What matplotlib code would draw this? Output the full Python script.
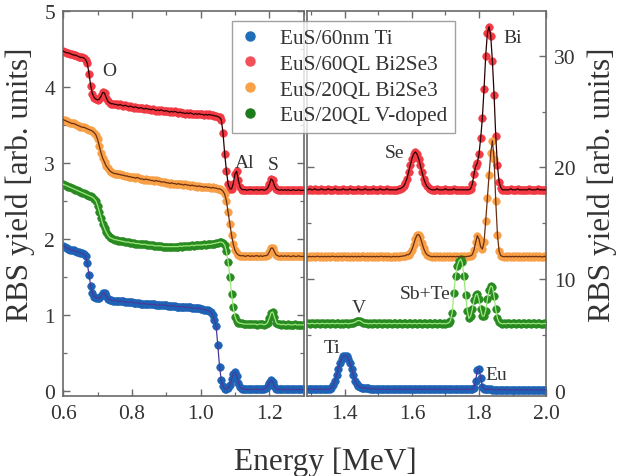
import numpy as np
import matplotlib
matplotlib.use('Agg')
import matplotlib.pyplot as plt
from matplotlib.lines import Line2D
from matplotlib.ticker import MultipleLocator, FormatStrFormatter

plt.rcParams['font.family'] = ['Liberation Serif', 'DejaVu Serif']

# ---------------- data ----------------
series_names = ["EuS/60nm Ti", "EuS/60QL Bi2Se3", "EuS/20QL Bi2Se3", "EuS/20QL V-doped"]

# energy grids (MeV)
energy_low = np.round(np.arange(0.600, 1.3001, 0.005), 3)   # 0.600 ... 1.300
energy_high = np.round(np.arange(1.290, 2.0001, 0.005), 3)  # 1.290 ... 2.000

# left panel yields [arb. units]
red_low = [
    4.47, 4.46, 4.45, 4.45, 4.44, 4.43, 4.42, 4.42, 4.41, 4.40,
    4.39, 4.39, 4.38, 4.36, 4.31, 4.17, 4.01, 3.91, 3.86, 3.84,
    3.83, 3.84, 3.88, 3.93, 3.92, 3.86, 3.81, 3.79, 3.78, 3.78,
    3.77, 3.77, 3.76, 3.77, 3.76, 3.75, 3.76, 3.75, 3.74, 3.75,
    3.74, 3.73, 3.74, 3.73, 3.72, 3.73, 3.72, 3.71, 3.72, 3.71,
    3.71, 3.70, 3.71, 3.70, 3.69, 3.70, 3.69, 3.70, 3.69, 3.68,
    3.69, 3.68, 3.67, 3.68, 3.67, 3.68, 3.67, 3.66, 3.67, 3.66,
    3.66, 3.65, 3.66, 3.65, 3.66, 3.65, 3.64, 3.65, 3.64, 3.65,
    3.64, 3.64, 3.63, 3.64, 3.63, 3.64, 3.63, 3.63, 3.62, 3.62,
    3.61, 3.60, 3.57, 3.40, 3.12, 2.90, 2.72, 2.66, 2.66, 2.73,
    2.86, 2.89, 2.77, 2.68, 2.65, 2.65, 2.65, 2.64, 2.65, 2.65,
    2.65, 2.64, 2.65, 2.65, 2.64, 2.65, 2.65, 2.64, 2.65, 2.67,
    2.72, 2.79, 2.77, 2.70, 2.66, 2.65, 2.64, 2.65, 2.64, 2.65,
    2.64, 2.65, 2.64, 2.64, 2.65, 2.64, 2.64, 2.65, 2.64, 2.64,
    2.64]
orange_low = [
    3.57, 3.56, 3.55, 3.54, 3.53, 3.52, 3.52, 3.51, 3.50, 3.49,
    3.48, 3.47, 3.47, 3.46, 3.45, 3.44, 3.43, 3.42, 3.40, 3.37,
    3.31, 3.22, 3.13, 3.06, 3.01, 2.96, 2.93, 2.90, 2.88, 2.87,
    2.86, 2.86, 2.85, 2.85, 2.84, 2.84, 2.83, 2.83, 2.82, 2.82,
    2.81, 2.81, 2.80, 2.81, 2.80, 2.79, 2.79, 2.78, 2.79, 2.78,
    2.78, 2.77, 2.77, 2.76, 2.77, 2.76, 2.76, 2.75, 2.75, 2.75,
    2.74, 2.74, 2.73, 2.74, 2.73, 2.73, 2.72, 2.73, 2.72, 2.72,
    2.71, 2.72, 2.71, 2.71, 2.70, 2.71, 2.70, 2.70, 2.69, 2.70,
    2.69, 2.69, 2.68, 2.69, 2.68, 2.68, 2.67, 2.68, 2.67, 2.67,
    2.66, 2.66, 2.65, 2.63, 2.59, 2.50, 2.35, 2.20, 2.05, 1.93,
    1.85, 1.81, 1.79, 1.78, 1.78, 1.78, 1.77, 1.78, 1.78, 1.77,
    1.78, 1.77, 1.78, 1.78, 1.77, 1.78, 1.77, 1.78, 1.78, 1.79,
    1.83, 1.88, 1.88, 1.83, 1.79, 1.78, 1.77, 1.78, 1.77, 1.78,
    1.77, 1.78, 1.77, 1.77, 1.78, 1.77, 1.77, 1.78, 1.77, 1.77,
    1.77]
green_low = [
    2.72, 2.71, 2.70, 2.69, 2.68, 2.67, 2.66, 2.65, 2.64, 2.63,
    2.62, 2.61, 2.60, 2.59, 2.58, 2.57, 2.56, 2.55, 2.53, 2.50,
    2.44, 2.36, 2.28, 2.20, 2.14, 2.09, 2.05, 2.02, 2.01, 2.00,
    1.99, 1.99, 1.98, 1.98, 1.97, 1.97, 1.96, 1.96, 1.96, 1.95,
    1.95, 1.95, 1.94, 1.94, 1.94, 1.93, 1.93, 1.93, 1.93, 1.92,
    1.92, 1.92, 1.92, 1.91, 1.91, 1.91, 1.91, 1.91, 1.90, 1.90,
    1.90, 1.90, 1.90, 1.90, 1.90, 1.90, 1.90, 1.90, 1.91, 1.90,
    1.91, 1.91, 1.91, 1.91, 1.91, 1.92, 1.91, 1.92, 1.92, 1.92,
    1.92, 1.92, 1.93, 1.92, 1.93, 1.93, 1.93, 1.94, 1.94, 1.95,
    1.95, 1.96, 1.96, 1.95, 1.92, 1.84, 1.70, 1.50, 1.28, 1.10,
    0.98, 0.92, 0.90, 0.89, 0.89, 0.88, 0.88, 0.88, 0.88, 0.88,
    0.88, 0.88, 0.88, 0.87, 0.88, 0.88, 0.88, 0.87, 0.88, 0.90,
    0.96, 1.03, 1.04, 0.97, 0.90, 0.88, 0.88, 0.87, 0.88, 0.87,
    0.87, 0.88, 0.87, 0.87, 0.87, 0.88, 0.87, 0.87, 0.87, 0.87,
    0.87]
blue_low = [
    1.91, 1.90, 1.88, 1.87, 1.86, 1.85, 1.85, 1.84, 1.83, 1.83,
    1.82, 1.81, 1.80, 1.77, 1.68, 1.52, 1.38, 1.29, 1.24, 1.23,
    1.22, 1.22, 1.25, 1.29, 1.29, 1.25, 1.21, 1.20, 1.20, 1.19,
    1.19, 1.19, 1.18, 1.18, 1.18, 1.18, 1.17, 1.17, 1.17, 1.17,
    1.17, 1.16, 1.16, 1.16, 1.16, 1.15, 1.15, 1.15, 1.15, 1.14,
    1.14, 1.14, 1.14, 1.14, 1.13, 1.13, 1.13, 1.13, 1.13, 1.13,
    1.13, 1.12, 1.12, 1.12, 1.12, 1.12, 1.11, 1.11, 1.11, 1.11,
    1.11, 1.10, 1.10, 1.10, 1.10, 1.09, 1.09, 1.09, 1.09, 1.09,
    1.08, 1.08, 1.07, 1.07, 1.06, 1.05, 1.04, 1.00, 0.94, 0.85,
    0.60, 0.32, 0.14, 0.06, 0.03, 0.03, 0.04, 0.08, 0.16, 0.23,
    0.25, 0.20, 0.11, 0.05, 0.03, 0.03, 0.02, 0.02, 0.02, 0.02,
    0.02, 0.02, 0.02, 0.02, 0.02, 0.02, 0.02, 0.03, 0.04, 0.06,
    0.11, 0.14, 0.12, 0.06, 0.03, 0.02, 0.02, 0.02, 0.02, 0.02,
    0.02, 0.02, 0.02, 0.02, 0.02, 0.02, 0.02, 0.02, 0.02, 0.02,
    0.02]

# right panel yields [arb. units]
red_high = [
    18.0, 18.1, 18.0, 18.0, 18.1, 18.0, 18.0, 18.0, 18.1, 18.0,
    18.0, 18.0, 18.1, 18.0, 18.0, 18.0, 18.1, 18.0, 18.0, 18.0,
    18.0, 18.1, 18.0, 18.0, 18.0, 18.1, 18.0, 18.0, 18.0, 18.0,
    18.1, 18.0, 18.0, 18.0, 18.1, 18.0, 18.0, 18.0, 18.0, 18.1,
    18.0, 18.0, 18.0, 18.1, 18.0, 18.0, 18.0, 18.1, 18.0, 18.0,
    18.0, 18.0, 18.0, 18.0, 18.1, 18.1, 18.2, 18.3, 18.6, 19.0,
    19.6, 20.2, 20.8, 21.2, 21.4, 21.2, 20.8, 20.2, 19.6, 19.0,
    18.6, 18.3, 18.15, 18.05, 18.0, 18.0, 18.0, 18.1, 18.0, 18.0,
    18.0, 18.0, 18.1, 18.0, 18.0, 18.0, 18.0, 18.1, 18.0, 18.0,
    18.0, 18.0, 18.0, 18.0, 18.0, 18.0, 18.0, 18.1, 18.5, 19.4,
    20.1, 20.4, 21.2, 22.6, 24.4, 27.0, 30.0, 32.0, 32.6, 31.8,
    29.5, 26.5, 22.8, 20.2, 18.7, 18.2, 18.0, 18.0, 18.0, 18.0,
    18.0, 18.1, 18.0, 18.0, 18.0, 18.1, 18.0, 18.0, 18.0, 18.0,
    18.0, 18.0, 18.1, 18.0, 18.0, 18.0, 18.0, 18.1, 18.0, 18.0,
    18.0, 18.0, 18.0]
orange_high = [
    12.0, 12.05, 12.0, 12.05, 12.0, 12.05, 12.05, 12.0, 12.05, 12.0,
    12.05, 12.0, 12.05, 12.0, 12.05, 12.05, 12.0, 12.05, 12.0, 12.05,
    12.0, 12.05, 12.05, 12.0, 12.05, 12.0, 12.05, 12.0, 12.05, 12.0,
    12.05, 12.0, 12.05, 12.05, 12.0, 12.05, 12.0, 12.05, 12.0, 12.05,
    12.0, 12.05, 12.0, 12.05, 12.05, 12.0, 12.05, 12.0, 12.05, 12.0,
    12.0, 12.05, 12.0, 12.05, 12.0, 12.05, 12.05, 12.1, 12.1, 12.2,
    12.2, 12.35, 12.65, 13.1, 13.6, 13.95, 14.0, 13.75, 13.25, 12.75,
    12.4, 12.2, 12.1, 12.05, 12.0, 12.05, 12.0, 12.05, 12.0, 12.05,
    12.0, 12.05, 12.0, 12.05, 12.0, 12.05, 12.0, 12.05, 12.0, 12.05,
    12.0, 12.05, 12.0, 12.05, 12.0, 12.05, 12.05, 12.1, 12.2, 12.6,
    13.3, 13.9, 13.6, 12.9, 12.7, 13.3, 15.2, 17.3, 19.3, 21.3,
    22.4, 20.8, 17.0, 14.0, 12.5, 12.1, 12.05, 12.0, 12.05, 12.0,
    12.05, 12.0, 12.05, 12.0, 12.05, 12.0, 12.05, 12.0, 12.05, 12.0,
    12.05, 12.0, 12.05, 12.0, 12.05, 12.0, 12.05, 12.0, 12.05, 12.0,
    12.0, 12.05, 12.0]
green_high = [
    6.05, 6.0, 6.05, 6.05, 6.0, 6.05, 6.05, 6.0, 6.05, 6.05,
    6.0, 6.05, 6.05, 6.0, 6.05, 6.05, 6.0, 6.05, 6.05, 6.0,
    6.05, 6.0, 6.05, 6.05, 6.0, 6.05, 6.05, 6.1, 6.15, 6.25,
    6.3, 6.3, 6.2, 6.1, 6.05, 6.05, 6.0, 6.05, 6.0, 6.05,
    6.05, 6.0, 6.05, 6.05, 6.0, 6.05, 6.05, 6.0, 6.05, 6.05,
    6.0, 6.05, 6.05, 6.0, 6.05, 6.05, 6.0, 6.05, 6.05, 6.0,
    6.05, 6.05, 6.0, 6.05, 6.05, 6.0, 6.05, 6.05, 6.0, 6.05,
    6.05, 6.0, 6.05, 6.05, 6.0, 6.05, 6.05, 6.0, 6.05, 6.05,
    6.0, 6.05, 6.0, 6.05, 6.1, 6.3, 7.0, 8.8, 10.3, 11.2,
    11.6, 11.8, 11.5, 10.3, 8.6, 7.2, 6.5, 6.7, 7.3, 8.1,
    8.6, 8.7, 8.2, 7.3, 6.7, 6.7, 7.2, 8.2, 9.0, 9.4,
    9.3, 8.5, 7.3, 6.5, 6.15, 6.05, 6.0, 6.05, 6.0, 6.05,
    6.05, 6.0, 6.05, 6.05, 6.0, 6.05, 6.05, 6.0, 6.05, 6.05,
    6.0, 6.05, 6.05, 6.0, 6.05, 6.05, 6.0, 6.05, 6.05, 6.0,
    6.0, 6.05, 6.0]
blue_high = [
    0.15, 0.15, 0.15, 0.15, 0.15, 0.15, 0.15, 0.15, 0.15, 0.15,
    0.15, 0.15, 0.15, 0.2, 0.3, 0.5, 0.9, 1.4, 2.0, 2.5,
    2.9, 3.1, 3.15, 3.1, 2.9, 2.5, 2.0, 1.4, 0.9, 0.6,
    0.45, 0.35, 0.3, 0.3, 0.25, 0.25, 0.25, 0.2, 0.2, 0.2,
    0.15, 0.15, 0.15, 0.15, 0.15, 0.15, 0.15, 0.15, 0.15, 0.15,
    0.15, 0.15, 0.15, 0.15, 0.15, 0.15, 0.15, 0.15, 0.15, 0.15,
    0.15, 0.15, 0.15, 0.15, 0.15, 0.15, 0.15, 0.15, 0.15, 0.15,
    0.15, 0.15, 0.15, 0.15, 0.15, 0.15, 0.15, 0.15, 0.15, 0.15,
    0.15, 0.15, 0.15, 0.15, 0.15, 0.15, 0.15, 0.15, 0.15, 0.15,
    0.15, 0.15, 0.15, 0.15, 0.15, 0.15, 0.15, 0.15, 0.15, 0.3,
    0.9, 1.9, 2.0, 1.2, 0.4, 0.2, 0.15, 0.15, 0.15, 0.15,
    0.12, 0.12, 0.12, 0.12, 0.12, 0.12, 0.12, 0.12, 0.12, 0.12,
    0.1, 0.1, 0.1, 0.1, 0.1, 0.1, 0.1, 0.1, 0.1, 0.1,
    0.1, 0.1, 0.1, 0.1, 0.1, 0.1, 0.1, 0.1, 0.1, 0.1,
    0.1, 0.1, 0.1]

# element labels: (text, energy, yield) -- left panel / right panel
labels_low = [("O", 0.733, 4.22), ("Al", 1.129, 3.01), ("S", 1.211, 2.98)]
labels_high = [("Se", 1.549, 21.3), ("Bi", 1.901, 31.6), ("Sb+Te", 1.639, 8.7),
               ("V", 1.442, 7.5), ("Ti", 1.361, 3.9), ("Eu", 1.851, 1.5)]

# ---------------- style ----------------
marker_colors = ["#1d62b5", "#f23a44", "#f7a048", "#2a8a22"]
line_colors = ["#4a3a9a", "#2a0000", "#6a2e10", "#9be87a"]
legend_colors = ["#1f6fb8", "#f5505a", "#f9a24a", "#1c7a1c"]

fig = plt.figure(figsize=(6.2, 4.77), dpi=100)
axL = fig.add_axes([0.1021, 0.1677, 0.3877, 0.8071])
axR = fig.add_axes([0.4952, 0.1677, 0.3855, 0.8071])

low_series = [blue_low, red_low, orange_low, green_low]
high_series = [blue_high, red_high, orange_high, green_high]

for ys, mc, lc in zip(low_series, marker_colors, line_colors):
    axL.plot(energy_low, ys, 'o', ms=5.4, color=mc, mec=mc, mew=0.5, zorder=2)
    axL.plot(energy_low, ys, '-', color=lc, lw=0.9, zorder=3)
for ys, mc, lc in zip(high_series, marker_colors, line_colors):
    axR.plot(energy_high, ys, 'o', ms=5.4, color=mc, mec=mc, mew=0.5, zorder=2)
    axR.plot(energy_high, ys, '-', color=lc, lw=0.9, zorder=3)

txt_col = "#333333"
for t, x, y in labels_low:
    axL.text(x, y, t, ha='center', va='center', fontsize=14, color=txt_col)
for t, x, y in labels_high:
    axR.text(x, y, t, ha='center', va='center', fontsize=14, color=txt_col)

spine_col = "#6a6a6a"
for ax in (axL, axR):
    for s in ax.spines.values():
        s.set_color(spine_col)
        s.set_linewidth(1.2)
    ax.tick_params(which='both', direction='in', top=True, bottom=True,
                   left=True, right=True, color=spine_col, labelcolor=txt_col,
                   labelsize=15.5)
    ax.tick_params(which='major', length=5, width=1.0, pad=6)
    ax.tick_params(which='minor', length=3, width=0.9)

axL.set_xlim(0.6, 1.3)
axL.set_ylim(-0.066, 5.0)
axL.xaxis.set_major_locator(MultipleLocator(0.2))
axL.xaxis.set_minor_locator(MultipleLocator(0.1))
axL.xaxis.set_major_formatter(FormatStrFormatter('%.1f'))
axL.yaxis.set_major_locator(MultipleLocator(1))
axL.yaxis.set_minor_locator(MultipleLocator(0.5))
axL.set_xticks([0.6, 0.8, 1.0, 1.2])

axR.set_xlim(1.287, 2.0)
axR.set_ylim(-0.45, 34.0)
axR.set_xticks([1.4, 1.6, 1.8, 2.0])
axR.xaxis.set_minor_locator(MultipleLocator(0.1))
axR.xaxis.set_major_formatter(FormatStrFormatter('%.1f'))
axR.yaxis.set_major_locator(MultipleLocator(10))
axR.yaxis.set_minor_locator(MultipleLocator(5))
axR.tick_params(labelleft=False, labelright=True)

fig.text(0.032, 0.612, "RBS yield [arb. units]", rotation=90, ha='center', va='center',
         fontsize=22.5, color=txt_col)
fig.text(0.971, 0.612, "RBS yield [arb. units]", rotation=90, ha='center', va='center',
         fontsize=22.5, color=txt_col)
fig.text(0.524, 0.03, "Energy [MeV]", ha='center', va='center', fontsize=22.5, color=txt_col)

handles = [Line2D([], [], ls='none', marker='o', ms=6.5, color=c, mec=c) for c in legend_colors]
leg = fig.legend(handles, series_names, loc='upper left',
                 bbox_to_anchor=(232 / 620, 1 - 22 / 477), bbox_transform=fig.transFigure,
                 fontsize=15.3, frameon=True, fancybox=False, borderaxespad=0,
                 handlelength=1.0, handletextpad=0.9, labelspacing=0.27, borderpad=0.35)
leg.get_frame().set_edgecolor("#8a8a8a")
leg.get_frame().set_linewidth(1.0)
for t in leg.get_texts():
    t.set_color(txt_col)

fig.savefig("out.png", dpi=100)
